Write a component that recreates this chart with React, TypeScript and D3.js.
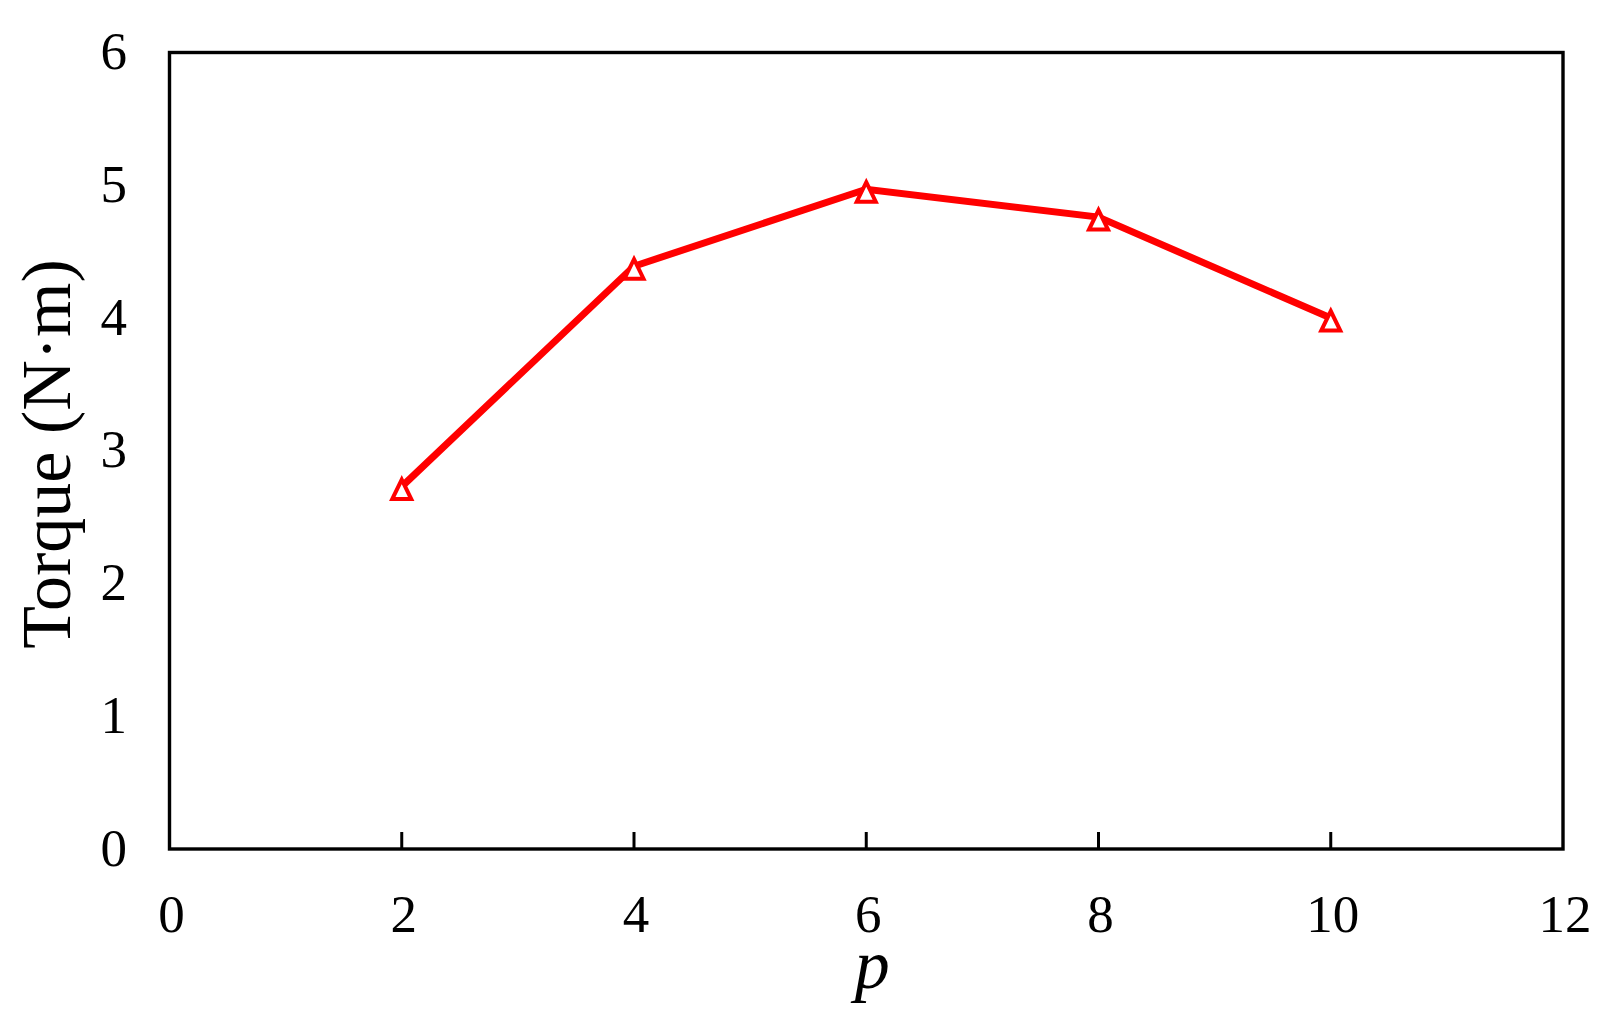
import React from "react";
import * as d3 from "d3";

const pValues = [2, 4, 6, 8, 10];
const torque = [2.73, 4.39, 4.97, 4.76, 4.0];
const xTicks = [0, 2, 4, 6, 8, 10, 12];
const yTicks = [0, 1, 2, 3, 4, 5, 6];
const xTitle = "p";
const yTitle = "Torque (N·m)";

const W = 1624;
const H = 1030;
const M = { left: 169.5, right: 1563, top: 52.5, bottom: 849 };
const FONT = "'Liberation Serif', 'Times New Roman', Times, serif";
const RED = "#ff0000";

export default function App() {
  const x = d3.scaleLinear().domain([0, 12]).range([M.left, M.right]);
  const y = d3.scaleLinear().domain([0, 6]).range([M.bottom, M.top]);
  const pts = pValues.map((p, i) => [x(p), y(torque[i])] as [number, number]);
  const line = d3.line()(pts) || "";
  const tri = (cx: number, cy: number) =>
    `M${cx},${cy - 7}L${cx + 9.5},${cy + 12.5}L${cx - 9.5},${cy + 12.5}Z`;

  return (
    <svg
      width={W}
      height={H}
      style={{ position: "absolute", left: 0, top: 0, background: "#fff", fontFamily: FONT }}
    >
      <rect x={0} y={0} width={W} height={H} fill="#fff" />
      {xTicks
        .filter((t) => t > 0 && t < 12)
        .map((t) => (
          <line
            key={"xt" + t}
            x1={x(t)}
            x2={x(t)}
            y1={M.bottom}
            y2={M.bottom - 17}
            stroke="#000"
            strokeWidth={3}
          />
        ))}
      <rect
        x={M.left}
        y={M.top}
        width={M.right - M.left}
        height={M.bottom - M.top}
        fill="none"
        stroke="#000"
        strokeWidth={3.4}
      />
      {xTicks.map((t) => (
        <text
          key={"xl" + t}
          x={x(t) + 2}
          y={932}
          fontSize={53}
          textAnchor="middle"
          fill="#000"
          style={{ fontFamily: FONT }}
        >
          {t}
        </text>
      ))}
      {yTicks.map((t) => (
        <text
          key={"yl" + t}
          x={127}
          y={y(t) + 16.5}
          fontSize={53}
          textAnchor="end"
          fill="#000"
          style={{ fontFamily: FONT }}
        >
          {t}
        </text>
      ))}
      <text
        x={(M.left + M.right) / 2 + 6}
        y={988}
        fontSize={70}
        fontStyle="italic"
        textAnchor="middle"
        fill="#000"
        style={{ fontFamily: FONT }}
      >
        {xTitle}
      </text>
      <text
        transform={`translate(70,454) rotate(-90)`}
        fontSize={70}
        textAnchor="middle"
        fill="#000"
        style={{ fontFamily: FONT }}
      >
        {yTitle}
      </text>
      <path d={line} fill="none" stroke={RED} strokeWidth={7} strokeLinejoin="miter" />
      {pts.map(([cx, cy], i) => (
        <path
          key={"m" + i}
          d={tri(cx, cy)}
          fill="#fff"
          stroke={RED}
          strokeWidth={4}
        />
      ))}
    </svg>
  );
}
